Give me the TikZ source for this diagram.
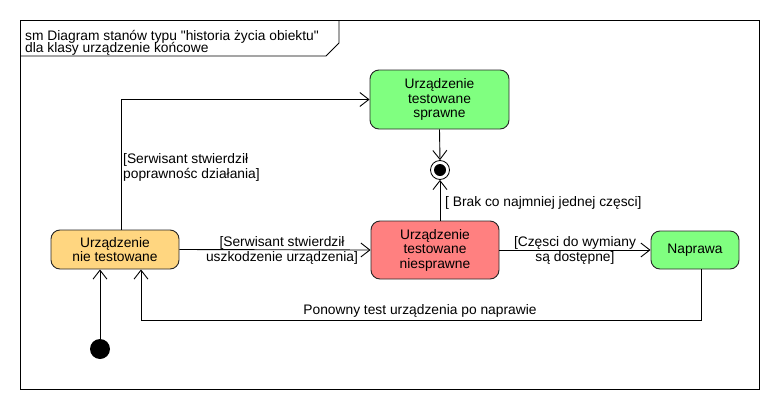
\documentclass[tikz,border=0pt]{standalone}
\usepackage{fontspec}
\setmainfont{Liberation Sans}
\usetikzlibrary{arrows.meta,positioning,calc}
\definecolor{stanpom}{RGB}{255,214,128}
\definecolor{stanziel}{RGB}{128,255,128}
\definecolor{stancz}{RGB}{255,128,128}
\tikzstyle{stan}=[draw=black!85,line width=0.9pt,rounded corners=9pt,align=center,inner sep=0pt,font=\fontsize{13.8}{14.5}\selectfont]
\tikzstyle{przejscie}=[draw,line width=0.9pt,-{Straight Barb[length=9pt,width=14pt]}]
\tikzstyle{etykieta}=[align=center,inner sep=0pt,font=\fontsize{13.8}{15}\selectfont]

\begin{document}
\begin{tikzpicture}[x=1pt,y=-1pt]
\useasboundingbox[fill=white] (0,0) rectangle (780,410);
% ramka diagramu
\draw[line width=0.9pt] (20,20) rectangle (759,389);
\draw[line width=0.9pt] (20,56) -- (326,56) -- (339,43) -- (339,20);
\node[anchor=north west,align=left,inner sep=0pt,font=\fontsize{13.8}{14}\selectfont] (tytul) at (25,30) {sm Diagram stanów typu \textquotedbl historia życia obiektu\textquotedbl\\[-1.5pt]dla klasy urządzenie końcowe};

% stany
\node[stan,fill=stanpom,minimum width=128pt,minimum height=39pt] (nt) at (115,249.5) {Urządzenie\\nie testowane};
\node[stan,fill=stanziel,minimum width=139pt,minimum height=59pt] (ts) at (439.5,99.5) {Urządzenie\\testowane\\sprawne};
\node[stan,fill=stancz,minimum width=128pt,minimum height=58pt] (tn) at (435,250) {Urządzenie\\testowane\\niesprawne};
\node[stan,fill=stanziel,minimum width=88pt,minimum height=38pt] (nap) at (695,250) {Naprawa};
\node[circle,fill=black,minimum size=20pt,inner sep=0pt] (pocz) at (100,349) {};
\node[circle,draw,line width=0.8pt,minimum size=19pt,inner sep=0pt] (kon) at (440,170) {};
\fill (kon.center) circle (6pt);
\coordinate (powrot) at (141,320);

% przejscia
\draw[przejscie] (pocz) -- (nt.south -| pocz);
\draw[przejscie] ([xshift=6pt]nt.north) |- (ts.west);
\draw[przejscie] (nt.east) -- (tn.west);
\draw[przejscie] (ts.south) -- (kon.north);
\draw[przejscie] (tn.north -| kon) -- (kon.south);
\draw[przejscie] (tn.east) -- (nap.west);
\draw[przejscie] ([xshift=6pt]nap.south) |- (powrot) -- (nt.south -| powrot);

% etykiety
\node[etykieta,align=left,anchor=west] at (123,167) {[Serwisant stwierdził\\poprawnośc działania]};
\node[etykieta] at (282,250) {[Serwisant stwierdził\\uszkodzenie urządzenia]};
\node[etykieta,anchor=west] at (445,203) {[ Brak co najmniej jednej częsci]};
\node[etykieta] at (575,250) {[Częsci do wymiany\\są dostępne]};
\node[etykieta] at (420,311) {Ponowny test urządzenia po naprawie};
\end{tikzpicture}
\end{document}
